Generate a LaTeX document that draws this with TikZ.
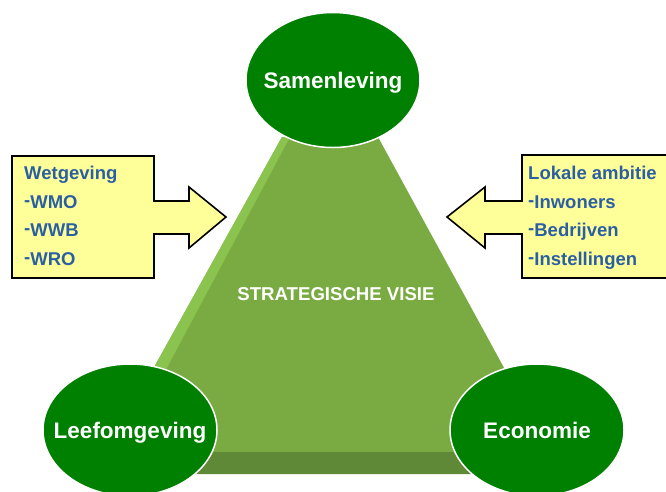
\documentclass[tikz,border=0pt]{standalone}
\usepackage{fontspec}
\setmainfont{Liberation Sans}
\usetikzlibrary{shapes.geometric}
\definecolor{pillar}{HTML}{008000}
\definecolor{face}{HTML}{7AAB43}
\definecolor{facelight}{HTML}{8BC34F}
\definecolor{facedark}{HTML}{5F8936}
\definecolor{notepad}{HTML}{FFFF99}
\definecolor{notetext}{HTML}{2B5FA3}
% raised list dash
\newcommand{\listdash}{\raisebox{2pt}{-}}
\tikzset{
  pillarshape/.style={ellipse, fill=pillar, draw=white, line width=1.5pt,
    minimum width=174pt, inner sep=0pt},
  pillartext/.style={anchor=base, text=white, font=\fontsize{22.5}{27}\selectfont\bfseries, inner sep=0pt},
  callout/.style={fill=notepad, draw=black, line width=1.6pt, line join=miter},
  notetxt/.style={anchor=base west, text=notetext, font=\fontsize{18.5}{22}\selectfont\bfseries, inner sep=0pt},
  visietext/.style={anchor=base, text=white, font=\fontsize{18.6}{22}\selectfont\bfseries, inner sep=0pt}
}
\begin{document}
\begin{tikzpicture}[x=1pt, y=-1pt]
\useasboundingbox (0,0) rectangle (666,491);

% truncated pyramid: main face, lit left side, shaded base
\fill[face] (282,137) -- (378,137) -- (550,452) -- (107,452) -- cycle;
\fill[facelight] (282,137) -- (290,137) -- (122,452) -- (107,452) -- cycle;
\fill[facedark] (107,452) -- (550,452) -- (535,474) -- (122,474) -- cycle;
\node[visietext] (visie) at (336,300) {STRATEGISCHE VISIE};

% left note with arrow pointing right
\draw[callout] (12,156) -- (154,156) -- (154,201) -- (189,201) -- (189,187)
  -- (226,217) -- (189,248) -- (189,234) -- (154,234) -- (154,278)
  -- (12,278) -- cycle;
\node[notetxt] (wet) at (24,179.5) {Wetgeving};
\node[notetxt] (wmo) at (24,208) {\listdash WMO};
\node[notetxt] (wwb) at (24,236.5) {\listdash WWB};
\node[notetxt] (wro) at (24,265) {\listdash WRO};

% right note with arrow pointing left
\draw[callout] (670,155) -- (522,155) -- (522,201) -- (485,201) -- (485,187)
  -- (447,217) -- (485,248) -- (485,234) -- (522,234) -- (522,278)
  -- (670,278) -- cycle;
\node[notetxt] (lok) at (528,179.5) {Lokale ambitie};
\node[notetxt] (inw) at (528,208) {\listdash Inwoners};
\node[notetxt] (bed) at (528,236.5) {\listdash Bedrijven};
\node[notetxt] (ins) at (528,265) {\listdash Instellingen};

% the three pillars
\node[pillarshape, minimum height=135pt] (samen) at (333,80) {};
\node[pillartext] (samenlbl) at (333,88) {Samenleving};
\node[pillarshape, minimum height=132pt] (leef) at (130,430) {};
\node[pillartext] (leeflbl) at (130,438) {Leefomgeving};
\node[pillarshape, minimum height=132pt] (eco) at (537,430) {};
\node[pillartext] (ecolbl) at (537,438) {Economie};
\end{tikzpicture}
\end{document}
